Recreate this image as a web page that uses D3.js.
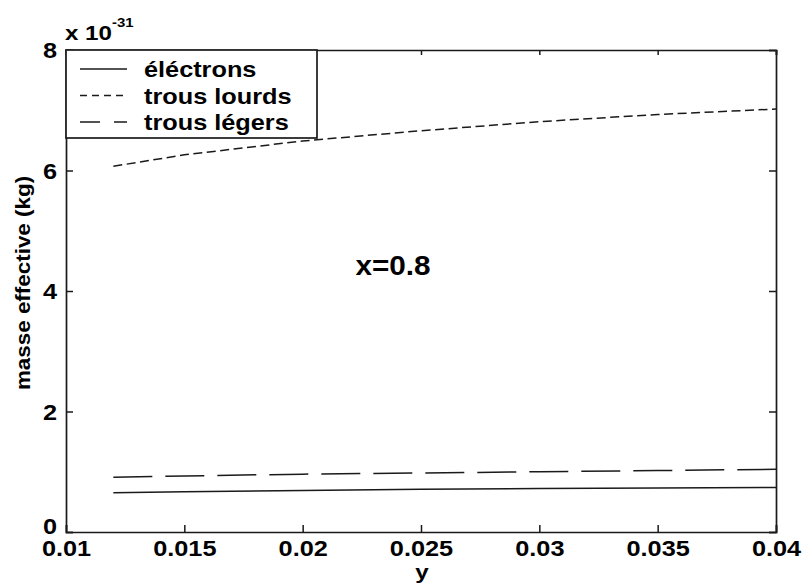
<!DOCTYPE html>
<html><head><meta charset="utf-8">
<script src="https://cdn.jsdelivr.net/npm/d3@7"></script>
<style>body{margin:0;background:#fff}svg{display:block}</style>
</head><body>
<svg id="c" width="803" height="588"></svg>
<script>
const yComp = [0.012, 0.015, 0.02, 0.025, 0.03, 0.035, 0.04];
const electrons = [0.65, 0.67, 0.69, 0.71, 0.72, 0.73, 0.74];
const trousLourds = [6.07, 6.26, 6.49, 6.66, 6.81, 6.93, 7.02];
const trousLegers = [0.91, 0.93, 0.96, 0.98, 1.00, 1.02, 1.04];
const xTicks = [0.01, 0.015, 0.02, 0.025, 0.03, 0.035, 0.04];
const yTicks = [0, 2, 4, 6, 8];
const seriesNames = ["éléctrons", "trous lourds", "trous légers"];

(function () {
const svg = d3.select("#c");
const L = 66, R = 776, T = 50, B = 532;
const x = d3.scaleLinear().domain([0.01, 0.04]).range([L, R]);
const y = d3.scaleLinear().domain([0, 8]).range([B, T]);
const col = "#1a1a1a";
const font = "Arial, 'Liberation Sans', Helvetica, sans-serif";
const SX = 1.15;

const series = [
  {name: seriesNames[0], vals: electrons, dash: null},
  {name: seriesNames[1], vals: trousLourds, dash: "9,4.5"},
  {name: seriesNames[2], vals: trousLegers, dash: "39,13"}
];

const line = d3.line().x(d => x(d[0])).y(d => y(d[1]));
series.forEach(s => {
  svg.append("path")
    .attr("d", line(yComp.map((v, i) => [v, s.vals[i]])))
    .attr("fill", "none").attr("stroke", col).attr("stroke-width", 1.5)
    .attr("stroke-dasharray", s.dash);
});

const fmtX = d => String(+d.toFixed(3));
const gBottom = svg.append("g").attr("transform", `translate(0,${B})`)
  .call(d3.axisBottom(x).tickValues(xTicks).tickSize(-7).tickPadding(10).tickFormat(fmtX));
const gTop = svg.append("g").attr("transform", `translate(0,${T})`)
  .call(d3.axisTop(x).tickValues(xTicks).tickSize(-5).tickFormat(""));
const gLeft = svg.append("g").attr("transform", `translate(${L},0)`)
  .call(d3.axisLeft(y).tickValues(yTicks).tickSize(-7).tickPadding(10).tickFormat(d3.format("d")));
const gRight = svg.append("g").attr("transform", `translate(${R},0)`)
  .call(d3.axisRight(y).tickValues(yTicks).tickSize(-7).tickFormat(""));
[gBottom, gTop, gLeft, gRight].forEach(g => {
  g.selectAll("path.domain").attr("stroke", col).attr("stroke-width", 1.7);
  g.selectAll(".tick line").attr("stroke", col).attr("stroke-width", 1.5);
  g.selectAll("text").attr("fill", "#000").style("font-family", font)
    .style("font-size", "22px").style("font-weight", "bold");
});
gBottom.selectAll("text").attr("y", 24).attr("dy", 0).attr("x", 0)
  .attr("transform", `scale(${SX},1)`);
gLeft.selectAll("text").attr("x", -9 / SX).attr("dy", "0.35em")
  .attr("transform", `scale(${SX},1)`);
gLeft.selectAll(".tick").filter(d => d === 0).select("text").attr("y", -6);

function label(tx, ty, txt, size, anchor, extra) {
  return svg.append("text")
    .attr("transform", `translate(${tx},${ty})${extra || ""} scale(${SX},1)`)
    .attr("text-anchor", anchor || "start")
    .style("font-family", font).style("font-size", size + "px").style("font-weight", "bold")
    .attr("fill", "#000").text(txt);
}

const ex = label(65, 40, "", 21);
ex.append("tspan").text("x 10");
ex.append("tspan").attr("dy", -13).style("font-size", "13px").text("-31");

label(422, 579, "y", 21, "middle");
label(30, 283, "masse effective (kg)", 19.5, "middle", " rotate(-90)");
svg.append("text").attr("transform", `translate(393,275) scale(1.1,1)`).attr("text-anchor", "middle")
  .style("font-family", font).style("font-size", "27px").style("font-weight", "bold").text("x=0.8");

const lg = svg.append("g");
lg.append("rect").attr("x", L).attr("y", T).attr("width", 251).attr("height", 88)
  .attr("fill", "#fff").attr("stroke", col).attr("stroke-width", 1.7);
const legDash = [null, "7,5", "20,14"];
series.forEach((s, i) => {
  const cy = 69 + i * 26.5;
  lg.append("line").attr("x1", 80).attr("x2", 127).attr("y1", cy).attr("y2", cy)
    .attr("stroke", col).attr("stroke-width", 1.5).attr("stroke-dasharray", legDash[i]);
  label(144, cy + 8, s.name, 22);
});
})();
</script>
</body></html>
